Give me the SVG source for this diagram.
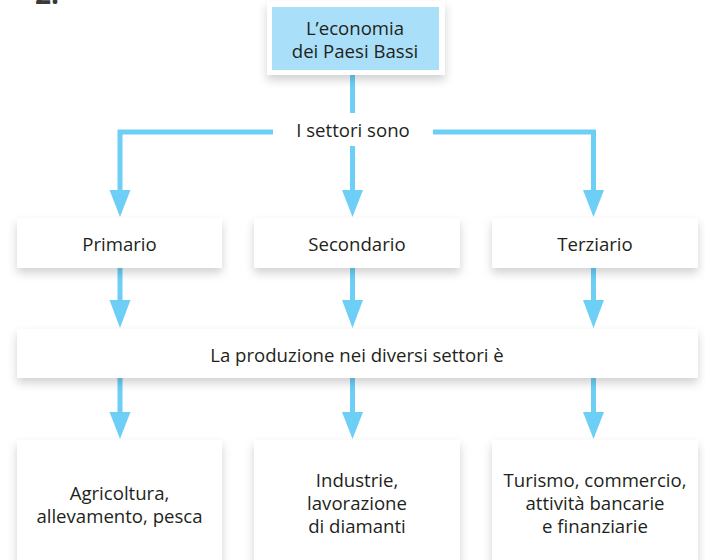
<svg xmlns="http://www.w3.org/2000/svg" width="705" height="560" viewBox="0 0 705 560">
<style>
  .t { font-family: "Open Sans", "Noto Sans", "Liberation Sans", sans-serif; font-size: 18.6px; fill: #231f20; text-anchor: middle; }
  .box { fill: #ffffff; filter: url(#sh); }
  .ln { stroke: #6dcff6; stroke-width: 5; fill: none; }
  .ah { fill: #6dcff6; }
</style>
<defs>
  <filter id="sh" x="-20%" y="-30%" width="140%" height="170%">
    <feDropShadow dx="0" dy="5" stdDeviation="5" flood-color="#000" flood-opacity="0.18"/>
  </filter>
</defs>
<rect width="705" height="560" fill="#ffffff"/>
<text x="35" y="4" style="font-family: 'Open Sans', 'Liberation Sans', sans-serif; font-size: 28px; font-weight: bold; fill: #3a3a3a;">2.</text>

<g id="connectors">
  <line class="ln" x1="352.5" y1="75" x2="352.5" y2="113"/>
  <polyline class="ln" points="273,132 120,132 120,190"/>
  <path class="ah" d="M109.5,190 L130.5,190 L120,217 Z"/>
  <polyline class="ln" points="433,132 593.5,132 593.5,190"/>
  <path class="ah" d="M583,190 L604,190 L593.5,217 Z"/>
  <line class="ln" x1="352.5" y1="146" x2="352.5" y2="190"/>
  <path class="ah" d="M342,190 L363,190 L352.5,217 Z"/>

  <line class="ln" x1="120" y1="268" x2="120" y2="301"/>
  <path class="ah" d="M109.5,300 L130.5,300 L120,328 Z"/>
  <line class="ln" x1="352.5" y1="268" x2="352.5" y2="301"/>
  <path class="ah" d="M342,300 L363,300 L352.5,328 Z"/>
  <line class="ln" x1="593.5" y1="268" x2="593.5" y2="301"/>
  <path class="ah" d="M583,300 L604,300 L593.5,328 Z"/>

  <line class="ln" x1="120" y1="378" x2="120" y2="413"/>
  <path class="ah" d="M109.5,412 L130.5,412 L120,439 Z"/>
  <line class="ln" x1="352.5" y1="378" x2="352.5" y2="413"/>
  <path class="ah" d="M342,412 L363,412 L352.5,439 Z"/>
  <line class="ln" x1="593.5" y1="378" x2="593.5" y2="413"/>
  <path class="ah" d="M583,412 L604,412 L593.5,439 Z"/>
</g>

<g id="top">
  <rect class="box" x="267" y="1" width="178" height="74"/>
  <rect x="272" y="7" width="167" height="63" fill="#a9dff8"/>
  <text class="t" x="355" y="35">L’economia</text>
  <text class="t" x="355" y="58">dei Paesi Bassi</text>
</g>

<g id="settori">
  <text class="t" x="353" y="137">I settori sono</text>
</g>

<g id="primario">
  <rect class="box" x="17" y="218" width="205" height="50"/>
  <text class="t" x="119.5" y="251">Primario</text>
</g>
<g id="secondario">
  <rect class="box" x="254" y="218" width="206" height="50"/>
  <text class="t" x="357" y="251">Secondario</text>
</g>
<g id="terziario">
  <rect class="box" x="492" y="218" width="206" height="50"/>
  <text class="t" x="595" y="251">Terziario</text>
</g>

<g id="produzione">
  <rect class="box" x="17" y="329" width="681" height="49"/>
  <text class="t" x="357" y="362">La produzione nei diversi settori è</text>
</g>

<g id="agricoltura">
  <rect class="box" x="17" y="440" width="205" height="135"/>
  <text class="t" x="119.5" y="500">Agricoltura,</text>
  <text class="t" x="119.5" y="523">allevamento, pesca</text>
</g>
<g id="industrie">
  <rect class="box" x="254" y="440" width="206" height="135"/>
  <text class="t" x="357" y="487">Industrie,</text>
  <text class="t" x="357" y="510">lavorazione</text>
  <text class="t" x="357" y="533">di diamanti</text>
</g>
<g id="turismo">
  <rect class="box" x="492" y="440" width="206" height="135"/>
  <text class="t" x="595" y="487">Turismo, commercio,</text>
  <text class="t" x="595" y="510">attività bancarie</text>
  <text class="t" x="595" y="533">e finanziarie</text>
</g>
</svg>
